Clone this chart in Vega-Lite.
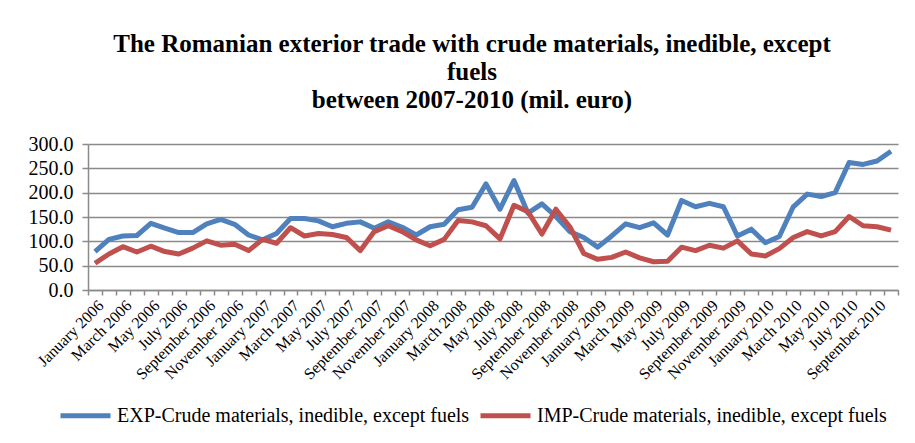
{
  "$schema": "https://vega.github.io/schema/vega-lite/v6.json",
  "autosize": {"type": "none"},
  "width": 810,
  "height": 146,
  "padding": {"left": 88, "top": 144, "right": 17, "bottom": 153},
  "background": "white",
  "title": {
    "text": ["The Romanian exterior trade with crude materials, inedible, except", "fuels", "between 2007-2010 (mil. euro)"],
    "font": "Liberation Serif",
    "fontSize": 25,
    "fontWeight": "bold",
    "color": "black",
    "lineHeight": 28,
    "anchor": "middle",
    "offset": 21,
    "dx": -21
  },
  "data": {
    "values": [
      {"month": "January 2006", "EXP": 79, "IMP": 55},
      {"month": "February 2006", "EXP": 104, "IMP": 74},
      {"month": "March 2006", "EXP": 111, "IMP": 89},
      {"month": "April 2006", "EXP": 112, "IMP": 78},
      {"month": "May 2006", "EXP": 137, "IMP": 90},
      {"month": "June 2006", "EXP": 127, "IMP": 79},
      {"month": "July 2006", "EXP": 118, "IMP": 74},
      {"month": "August 2006", "EXP": 118, "IMP": 86},
      {"month": "September 2006", "EXP": 136, "IMP": 101},
      {"month": "October 2006", "EXP": 145, "IMP": 92},
      {"month": "November 2006", "EXP": 135, "IMP": 94},
      {"month": "December 2006", "EXP": 113, "IMP": 81},
      {"month": "January 2007", "EXP": 103, "IMP": 104},
      {"month": "February 2007", "EXP": 116, "IMP": 96},
      {"month": "March 2007", "EXP": 147, "IMP": 128},
      {"month": "April 2007", "EXP": 147, "IMP": 111},
      {"month": "May 2007", "EXP": 142, "IMP": 116},
      {"month": "June 2007", "EXP": 130, "IMP": 114},
      {"month": "July 2007", "EXP": 137, "IMP": 108},
      {"month": "August 2007", "EXP": 140, "IMP": 81},
      {"month": "September 2007", "EXP": 127, "IMP": 120},
      {"month": "October 2007", "EXP": 140, "IMP": 132},
      {"month": "November 2007", "EXP": 129, "IMP": 120},
      {"month": "December 2007", "EXP": 113, "IMP": 103},
      {"month": "January 2008", "EXP": 130, "IMP": 91},
      {"month": "February 2008", "EXP": 135, "IMP": 104},
      {"month": "March 2008", "EXP": 165, "IMP": 143},
      {"month": "April 2008", "EXP": 170, "IMP": 140},
      {"month": "May 2008", "EXP": 218, "IMP": 132},
      {"month": "June 2008", "EXP": 166, "IMP": 105},
      {"month": "July 2008", "EXP": 225, "IMP": 174},
      {"month": "August 2008", "EXP": 158, "IMP": 161},
      {"month": "September 2008", "EXP": 177, "IMP": 115},
      {"month": "October 2008", "EXP": 151, "IMP": 166},
      {"month": "November 2008", "EXP": 120, "IMP": 130},
      {"month": "December 2008", "EXP": 108, "IMP": 75},
      {"month": "January 2009", "EXP": 88, "IMP": 63},
      {"month": "February 2009", "EXP": 111, "IMP": 67},
      {"month": "March 2009", "EXP": 136, "IMP": 78},
      {"month": "April 2009", "EXP": 128, "IMP": 66},
      {"month": "May 2009", "EXP": 138, "IMP": 58},
      {"month": "June 2009", "EXP": 113, "IMP": 59},
      {"month": "July 2009", "EXP": 184, "IMP": 88},
      {"month": "August 2009", "EXP": 171, "IMP": 81},
      {"month": "September 2009", "EXP": 178, "IMP": 92},
      {"month": "October 2009", "EXP": 171, "IMP": 86},
      {"month": "November 2009", "EXP": 111, "IMP": 101},
      {"month": "December 2009", "EXP": 125, "IMP": 74},
      {"month": "January 2010", "EXP": 97, "IMP": 70},
      {"month": "February 2010", "EXP": 110, "IMP": 85},
      {"month": "March 2010", "EXP": 171, "IMP": 108},
      {"month": "April 2010", "EXP": 197, "IMP": 120},
      {"month": "May 2010", "EXP": 192, "IMP": 111},
      {"month": "June 2010", "EXP": 200, "IMP": 120},
      {"month": "July 2010", "EXP": 262, "IMP": 151},
      {"month": "August 2010", "EXP": 258, "IMP": 132},
      {"month": "September 2010", "EXP": 265, "IMP": 130},
      {"month": "October 2010", "EXP": 285, "IMP": 123}
    ]
  },
  "transform": [
    {"fold": ["EXP", "IMP"], "as": ["flow", "value"]}
  ],
  "mark": {"type": "line", "strokeWidth": 5, "strokeJoin": "round", "strokeCap": "butt"},
  "encoding": {
    "x": {
      "field": "month",
      "type": "nominal",
      "sort": null,
      "bandPosition": 0.5,
      "scale": {"type": "band", "paddingInner": 0, "paddingOuter": 0},
      "axis": {
        "title": null,
        "tickBand": "extent",
        "labelAngle": -45,
        "labelAlign": "right",
        "labelBaseline": "top",
        "labelFontSize": 16,
        "labelColor": "black",
        "labelPadding": 2,
        "labelOverlap": false,
        "labelExpr": "indexof(['January','March','May','July','September','November'], split(datum.value, ' ')[0]) >= 0 ? datum.value : ''",
        "domainColor": "#8a8a8a",
        "domainWidth": 1.5,
        "tickColor": "#8a8a8a",
        "tickWidth": 1.5,
        "tickSize": 5,
        "grid": false
      }
    },
    "y": {
      "field": "value",
      "type": "quantitative",
      "scale": {"domain": [0, 300], "nice": false},
      "axis": {
        "title": null,
        "values": [0, 50, 100, 150, 200, 250, 300],
        "format": ".1f",
        "labelFontSize": 20,
        "labelColor": "black",
        "labelPadding": 9,
        "tickColor": "#8a8a8a",
        "tickWidth": 1.5,
        "tickSize": 6,
        "domainColor": "#8a8a8a",
        "domainWidth": 1.5,
        "grid": true,
        "gridColor": "#8a8a8a",
        "gridWidth": 1.5
      }
    },
    "color": {
      "field": "flow",
      "type": "nominal",
      "scale": {"domain": ["EXP", "IMP"], "range": ["#4f81bd", "#c0504d"]},
      "legend": {
        "title": null,
        "orient": "none",
        "direction": "horizontal",
        "legendX": -30,
        "legendY": 244,
        "labelExpr": "datum.value + '-Crude materials, inedible, except fuels'",
        "labelFont": "Times New Roman",
        "labelFontSize": 20,
        "labelColor": "black",
        "labelLimit": 0,
        "labelOffset": 4,
        "symbolType": "stroke",
        "symbolSize": 2500,
        "symbolStrokeWidth": 5,
        "columnPadding": 0
      }
    }
  },
  "config": {
    "view": {"stroke": null},
    "font": "Times New Roman",
    "axis": {"labelFont": "Times New Roman"},
    "style": {"guide-label": {"font": "Times New Roman"}}
  }
}
